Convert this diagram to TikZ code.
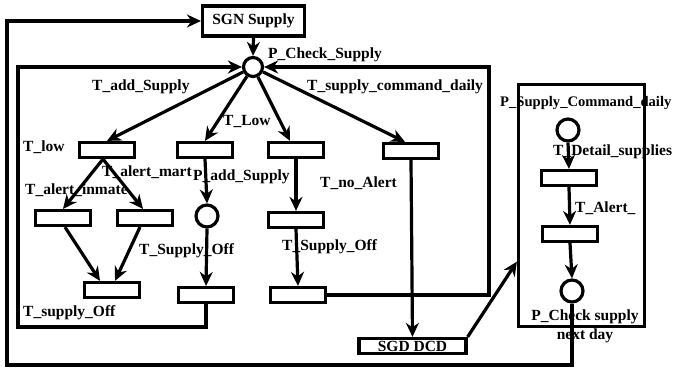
\documentclass[tikz,border=0pt]{standalone}
\usepackage{fontspec}
\setmainfont{Liberation Serif}
\usetikzlibrary{arrows.meta}

\tikzset{
  trans/.style={draw, line width=3.2pt, minimum width=55pt, minimum height=15pt, inner sep=0pt},
  place/.style={draw, circle, line width=3.2pt, minimum size=22pt, inner sep=0pt},
  supbox/.style={draw, line width=3.2pt, inner sep=0pt, font=\fontsize{15.5}{17}\selectfont\bfseries},
  arc/.style={line width=3.2pt, -{Stealth[length=14pt,width=13pt]}},
  link/.style={line width=3.2pt},
  lbl/.style={font=\fontsize{15.5}{17}\selectfont\bfseries, inner sep=0pt, anchor=west},
}

\begin{document}
\begin{tikzpicture}[x=1pt,y=-1pt]
      \useasboundingbox (0,0) rectangle (681,371);

      \node[supbox, minimum width=102pt, minimum height=30pt] (sgn) at (253.5,21) {SGN Supply};
      \node[place, minimum size=19pt] (pcheck) at (253,67) {};

      % first row
      \node[trans] (tlow) at (107,150) {};
      \node[trans] (tlowb) at (205,150) {};
      \node[trans] (tnoa) at (296,150) {};
      \node[trans] (tcmd) at (411,151) {};

      % second row
      \node[trans] (tinmate) at (63,218) {};
      \node[trans] (tmart) at (145,218) {};
      \node[place] (padd) at (207,216) {};
      \node[trans] (tnoab) at (296,220) {};

      % third row
      \node[trans] (toffa) at (112,290) {};
      \node[trans] (toffb) at (206,295) {};
      \node[trans] (toffc) at (298,295) {};

      \node[supbox, minimum width=107pt, minimum height=15pt] (sgd) at (412.5,346) {SGD DCD};

      % daily command part
      \node[draw, line width=3.2pt, minimum width=126pt, minimum height=242pt, inner sep=0pt] (cmdbox) at (581.5,205.5) {};
      \node[place] (pcmd) at (568,130) {};
      \node[trans] (tdetail) at (569,178) {};
      \node[trans] (talert) at (570,234) {};
      \node[place] (pnext) at (572,291) {};

      \coordinate (lcorner) at (18,327);
      \coordinate (rcorner) at (489,67);
      \coordinate (ocornera) at (7,365);
      \coordinate (ocornerb) at (7,21);

      \draw[arc] (pnext.south) |- (ocornera) -- (ocornerb) -- (sgn.west);
      \draw[arc] (toffb.south) |- (lcorner) |- (pcheck.west);
      \draw[arc] (toffc.east) -| (rcorner) -- (pcheck.east);

      \draw[arc] (sgn.south) -- (pcheck.north);
      \draw[arc] (pcheck) -- (tlow.north);
      \draw[arc] (pcheck) -- (tlowb.north);
      \draw[arc] (pcheck) -- ([xshift=-6pt]tnoa.north);
      \draw[arc] (pcheck) -- ([xshift=-6pt]tcmd.north);

      \draw[arc] ([xshift=-4pt]tlow.south) -- (tinmate.north);
      \draw[arc] ([xshift=-4pt]tlow.south) -- ([xshift=-2pt]tmart.north);
      \draw[arc] ([xshift=2pt]tinmate.south) -- ([xshift=-12pt]toffa.north);
      \draw[arc] ([xshift=-5pt]tmart.south) -- ([xshift=3pt]toffa.north);
      \draw[arc] (tlowb.south) -- (padd.north);
      \draw[arc] (padd.south) -- (toffb.north);
      \draw[arc] (tnoa.south) -- (tnoab.north);
      \draw[arc] (tnoab.south) -- (toffc.north);
      \draw[arc] (tcmd.south) -- (sgd.north);
      \draw[arc] (sgd.north east) -- (cmdbox.221);

      \draw[arc] (pcmd.south) -- (tdetail.north);
      \draw[arc] (tdetail.south) -- (talert.north);
      \draw[arc] (talert.south) -- (pnext.north);

      % labels
      \node[lbl] (lpcheck) at (268,55) {P\_Check\_Supply};
      \node[lbl] (ladd) at (92,87) {T\_add\_Supply};
      \node[lbl] (lcmd) at (307,87) {T\_supply\_command\_daily};
      \node[lbl] (lLow) at (223,122) {T\_Low};
      \node[lbl] (llow) at (23,147) {T\_low};
      \node[lbl] (lmart) at (102,172) {T\_alert\_mart};
      \node[lbl] (lpadd) at (193,177) {P\_add\_Supply};
      \node[lbl] (lnoa) at (320,183) {T\_no\_Alert};
      \node[lbl] (linmate) at (25,190) {T\_alert\_inmate};
      \node[lbl] (loffb) at (139,251) {T\_Supply\_Off};
      \node[lbl] (loffc) at (282,247) {T\_Supply\_Off};
      \node[lbl] (loffa) at (23,313) {T\_supply\_Off};
      \node[lbl, font=\fontsize{14.6}{17}\selectfont\bfseries] (lpcmd) at (500,103) {P\_Supply\_Command\_daily};
      \node[lbl] (ldetail) at (553,152) {T\_Detail\_supplies};
      \node[lbl] (lalert) at (575,208) {T\_Alert\_};
      \node[lbl, anchor=center, align=center, font=\fontsize{15.5}{19}\selectfont\bfseries] (lnext) at (585,326) {P\_Check supply\\next day};
\end{tikzpicture}
\end{document}
